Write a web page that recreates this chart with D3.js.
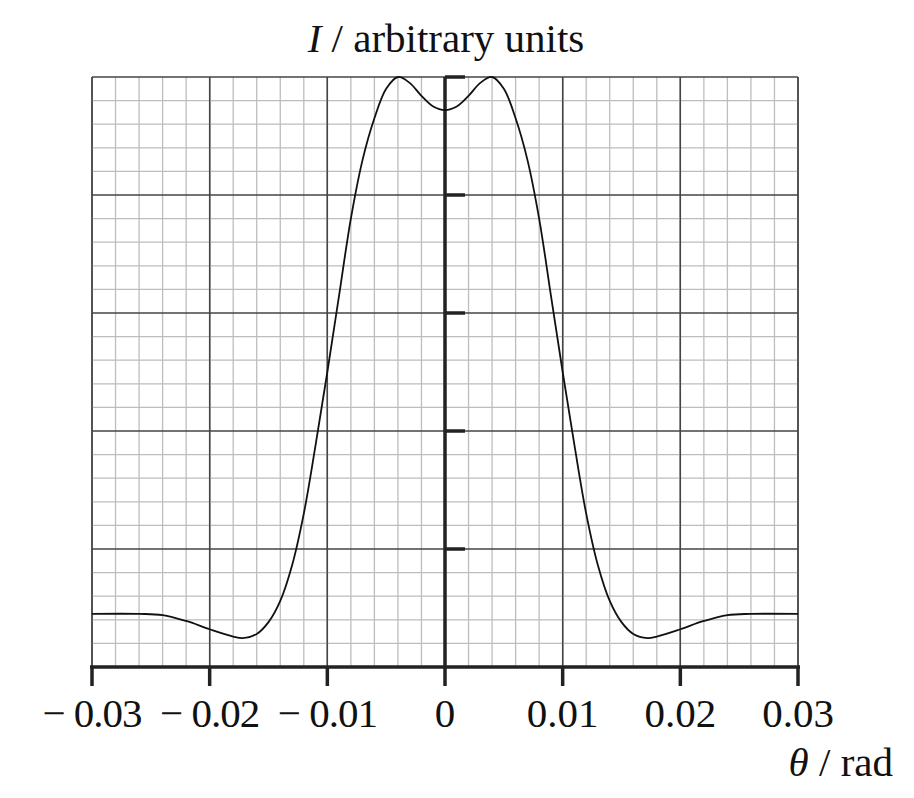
<!DOCTYPE html>
<html><head><meta charset="utf-8">
<script src="https://cdn.jsdelivr.net/npm/d3@7"></script>
<style>body{margin:0;background:#fff}text{font-family:"Liberation Serif","DejaVu Serif",serif;fill:#111}</style>
</head><body>
<svg id="c" width="914" height="798"></svg>
<script>
// left half of the curve (theta in rad, intensity in arbitrary units); right half mirrors it
const leftHalf = [
  [-0.030, 0.45], [-0.026, 0.45], [-0.024, 0.44], [-0.022, 0.39], [-0.020, 0.32],
  [-0.018, 0.258], [-0.0172, 0.245], [-0.016, 0.28], [-0.015, 0.38], [-0.014, 0.56],
  [-0.013, 0.86], [-0.012, 1.3], [-0.011, 1.88], [-0.010, 2.5], [-0.009, 3.15],
  [-0.008, 3.8], [-0.007, 4.3], [-0.006, 4.65], [-0.005, 4.9], [-0.004, 5.0],
  [-0.003, 4.95], [-0.002, 4.84], [-0.001, 4.75], [0, 4.72]
];
const curve = leftHalf.concat(leftHalf.slice(0, -1).reverse().map(d => [-d[0], d[1]]));
const xTicks = [-0.03, -0.02, -0.01, 0, 0.01, 0.02, 0.03];
const xLabels = ["\u2212 0.03", "\u2212 0.02", "\u2212 0.01", "0", "0.01", "0.02", "0.03"];
const yMajor = [0, 1, 2, 3, 4, 5];

const svg = d3.select('#c');
const x = d3.scaleLinear().domain([-0.03, 0.03]).range([92, 798]);
const y = d3.scaleLinear().domain([0, 5]).range([667, 77]);

const g = svg.append('g');
// minor grid
d3.range(0, 31).forEach(i => {
    const v = -0.03 + i * 0.002;
    g.append('line').attr('x1', x(v)).attr('x2', x(v)).attr('y1', y(0)).attr('y2', y(5))
        .attr('stroke', i % 5 ? '#bdbdbd' : '#444').attr('stroke-width', i % 5 ? 1.3 : 1.4);
});
d3.range(0, 26).forEach(i => {
    const v = i * 0.2;
    g.append('line').attr('y1', y(v)).attr('y2', y(v)).attr('x1', x(-0.03)).attr('x2', x(0.03))
        .attr('stroke', i % 5 ? '#bdbdbd' : '#444').attr('stroke-width', i % 5 ? 1.3 : 1.4);
});
// redraw major verticals on top
xTicks.forEach(v => g.append('line').attr('x1', x(v)).attr('x2', x(v)).attr('y1', y(0)).attr('y2', y(5))
    .attr('stroke', '#444').attr('stroke-width', 1.4));

// axes
svg.append('line').attr('x1', x(-0.03) - 2).attr('x2', x(0.03) + 2).attr('y1', y(0)).attr('y2', y(0))
    .attr('stroke', '#222').attr('stroke-width', 3.5);
xTicks.forEach(v => svg.append('line').attr('x1', x(v)).attr('x2', x(v)).attr('y1', y(0)).attr('y2', y(0) + 19)
    .attr('stroke', '#222').attr('stroke-width', 3.5));
svg.append('line').attr('x1', x(0)).attr('x2', x(0)).attr('y1', y(5)).attr('y2', y(0))
    .attr('stroke', '#222').attr('stroke-width', 3.5);
yMajor.slice(1).forEach(v => svg.append('line').attr('x1', x(0)).attr('x2', x(0) + 20).attr('y1', y(v)).attr('y2', y(v))
    .attr('stroke', '#222').attr('stroke-width', 3.5));

// curve
svg.append('path').datum(curve)
    .attr('d', d3.line().x(d => x(d[0])).y(d => y(d[1])).curve(d3.curveCatmullRom.alpha(0.5)))
    .attr('fill', 'none').attr('stroke', '#111').attr('stroke-width', 1.8);

// tick labels
xTicks.forEach((v, i) => svg.append('text').attr('x', x(v)).attr('y', 727).attr('text-anchor', 'middle')
    .attr('font-size', 41).attr('letter-spacing', i < 3 ? -1 : 0).text(xLabels[i]));

// titles
const t = svg.append('text').attr('x', 446).attr('y', 52).attr('text-anchor', 'middle').attr('font-size', 41);
t.append('tspan').attr('font-style', 'italic').text('I');
t.append('tspan').text(' / arbitrary units');
const xt = svg.append('text').attr('x', 893).attr('y', 776).attr('text-anchor', 'end').attr('font-size', 41);
xt.append('tspan').attr('font-style', 'italic').text('θ');
xt.append('tspan').text(' / rad');
</script>
</body></html>
